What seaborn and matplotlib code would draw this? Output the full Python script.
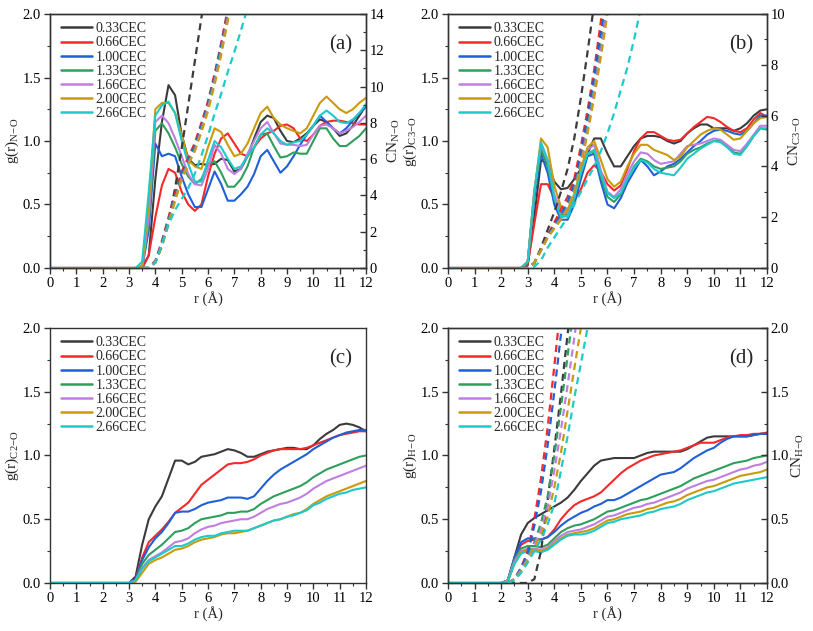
import numpy as np
import pandas as pd
import seaborn as sns
import matplotlib.pyplot as plt
from matplotlib.lines import Line2D
from matplotlib.ticker import MultipleLocator

nan = float('nan')

labels = ['0.33CEC', '0.66CEC', '1.00CEC', '1.33CEC', '1.66CEC', '2.00CEC', '2.66CEC']
colors = ['#3b3b3b', '#f5282a', '#1f5fd8', '#2f9e5c', '#bf7ee0', '#c99a0a', '#1ccaca']

# ---- (a) N-O ----
r_a = [0, 3.25, 3.5, 3.75, 4.0, 4.25, 4.5, 4.75, 5.0, 5.25, 5.5, 5.75, 6.0, 6.25, 6.5, 6.75,
       7.0, 7.25, 7.5, 7.75, 8.0, 8.25, 8.5, 8.75, 9.0, 9.25, 9.5, 9.75, 10.0, 10.25, 10.5,
       10.75, 11.0, 11.25, 11.5, 11.75, 12.0]
g_a = [
    [0, 0, 0, 0.1, 0.7, 1.15, 1.44, 1.36, 1.05, 0.86, 0.81, 0.82, 0.81, 0.82, 0.86, 0.85, 0.76, 0.78,
     0.88, 1.02, 1.15, 1.2, 1.18, 1.08, 1.0, 0.99, 1.02, 1.06, 1.12, 1.17, 1.15, 1.1, 1.04, 1.06, 1.12, 1.2, 1.28],
    [0, 0, 0, 0.1, 0.4, 0.65, 0.78, 0.75, 0.6, 0.5, 0.45, 0.5, 0.72, 0.9, 1.02, 1.06, 0.98, 0.9,
     0.88, 0.95, 1.02, 1.06, 1.08, 1.12, 1.13, 1.1, 1.02, 1.0, 1.05, 1.12, 1.15, 1.16, 1.16, 1.15, 1.14, 1.13, 1.13],
    [0, 0, 0, 0.3, 0.98, 0.88, 0.9, 0.88, 0.72, 0.58, 0.48, 0.48, 0.62, 0.76, 0.66, 0.53, 0.53, 0.58,
     0.64, 0.74, 0.88, 0.93, 0.84, 0.75, 0.8, 0.88, 0.97, 1.05, 1.12, 1.2, 1.15, 1.1, 1.06, 1.1, 1.16, 1.22, 1.27],
    [0, 0, 0, 0.35, 1.08, 1.14, 1.06, 0.95, 0.82, 0.72, 0.66, 0.7, 0.82, 0.84, 0.75, 0.64, 0.64, 0.7,
     0.8, 0.95, 1.05, 1.06, 0.96, 0.87, 0.88, 0.91, 0.9, 0.9, 1.0, 1.1, 1.1, 1.02, 0.96, 0.96, 1.0, 1.04, 1.1],
    [0, 0, 0, 0.4, 1.15, 1.2, 1.14, 1.02, 0.88, 0.74, 0.66, 0.65, 0.78, 0.97, 0.9, 0.78, 0.74, 0.78,
     0.9, 1.0, 1.1, 1.15, 1.06, 0.98, 0.97, 0.97, 0.96, 0.97, 1.05, 1.12, 1.13, 1.1, 1.06, 1.08, 1.11, 1.15, 1.2],
    [0, 0, 0.02, 0.5, 1.25, 1.3, 1.3, 1.22, 1.05, 0.85, 0.8, 0.78, 0.95, 1.1, 1.07, 0.97, 0.88, 0.9,
     0.98, 1.1, 1.22, 1.27, 1.18, 1.13, 1.1, 1.08, 1.06, 1.1, 1.2, 1.3, 1.35, 1.3, 1.25, 1.22, 1.25, 1.3, 1.34],
    [0, 0, 0.05, 0.6, 1.2, 1.28, 1.31, 1.22, 1.0, 0.82, 0.68, 0.68, 0.85, 1.0, 0.95, 0.86, 0.78, 0.8,
     0.88, 0.95, 1.05, 1.1, 1.06, 1.0, 0.97, 0.99, 1.0, 1.05, 1.12, 1.2, 1.24, 1.2, 1.15, 1.14, 1.17, 1.22, 1.29],
]
r_cn_a = [3.5, 3.75, 4.0, 4.25, 4.5, 4.75, 5.0, 5.25, 5.5, 5.75, 6.0, 6.25, 6.5, 6.75, 7.0, 7.25, 7.5, 7.75]
cn_a = [
    [0, 0, 0.3, 1.2, 2.6, 4.4, 6.6, 9.0, 11.4, 13.8, 16.0, nan, nan, nan, nan, nan, nan, nan],
    [0, 0, 0.4, 1.5, 2.8, 4.1, 5.3, 6.1, 6.9, 8.0, 9.2, 10.7, 12.4, 14.3, 16.2, nan, nan, nan],
    [0, 0, 0.35, 1.4, 2.65, 3.95, 5.15, 5.95, 6.75, 7.85, 9.05, 10.55, 12.25, 14.1, 16.0, nan, nan, nan],
    [0, 0, 0.3, 1.3, 2.55, 3.85, 5.05, 5.85, 6.6, 7.7, 8.9, 10.4, 12.05, 13.9, 15.8, nan, nan, nan],
    [0, 0, 0.3, 1.25, 2.45, 3.75, 4.95, 5.75, 6.5, 7.6, 8.8, 10.25, 11.9, 13.75, 15.6, nan, nan, nan],
    [0, 0, 0.3, 1.2, 2.4, 3.7, 4.9, 5.7, 6.45, 7.5, 8.65, 10.1, 11.75, 13.6, 15.4, nan, nan, nan],
    [0, 0, 0.3, 1.3, 2.4, 3.2, 3.8, 4.4, 5.2, 6.2, 7.3, 8.5, 9.6, 10.8, 11.9, 13.1, 14.3, 15.5],
]

# ---- (b) C3-O ----
r_b = [0, 2.75, 3.0, 3.25, 3.5, 3.75, 4.0, 4.25, 4.5, 4.75, 5.0, 5.25, 5.5, 5.75, 6.0, 6.25, 6.5,
       6.75, 7.0, 7.25, 7.5, 7.75, 8.0, 8.25, 8.5, 8.75, 9.0, 9.25, 9.5, 9.75, 10.0, 10.25, 10.5,
       10.75, 11.0, 11.25, 11.5, 11.75, 12.0]
g_b = [
    [0, 0, 0.02, 0.4, 0.85, 0.82, 0.68, 0.62, 0.63, 0.7, 0.78, 0.9, 1.02, 1.02, 0.9, 0.8, 0.8, 0.88, 0.96,
     1.02, 1.04, 1.04, 1.03, 1.0, 0.98, 1.0, 1.06, 1.1, 1.13, 1.13, 1.1, 1.1, 1.1, 1.08, 1.1, 1.14, 1.2, 1.24, 1.25],
    [0, 0, 0.03, 0.35, 0.66, 0.66, 0.55, 0.47, 0.46, 0.53, 0.62, 0.75, 0.81, 0.76, 0.66, 0.61, 0.65, 0.78, 0.92,
     1.02, 1.07, 1.07, 1.04, 1.01, 1.0, 1.01, 1.06, 1.11, 1.15, 1.19, 1.18, 1.15, 1.11, 1.08, 1.07, 1.1, 1.17, 1.22, 1.19],
    [0, 0, 0.05, 0.55, 0.9, 0.75, 0.5, 0.38, 0.38, 0.5, 0.7, 0.88, 0.9, 0.68, 0.5, 0.47, 0.55, 0.67, 0.76,
     0.85, 0.8, 0.73, 0.76, 0.8, 0.82, 0.86, 0.91, 0.96, 1.0, 1.05, 1.08, 1.09, 1.08, 1.06, 1.05, 1.08, 1.14, 1.2, 1.2],
    [0, 0, 0.05, 0.6, 0.94, 0.8, 0.55, 0.42, 0.42, 0.55, 0.75, 0.9, 0.92, 0.72, 0.56, 0.52, 0.58, 0.7, 0.8,
     0.86, 0.84, 0.8, 0.78, 0.79, 0.8, 0.84, 0.9, 0.93, 0.95, 0.98, 1.0, 1.0, 0.96, 0.91, 0.9, 0.96, 1.04, 1.1, 1.09],
    [0, 0, 0.05, 0.62, 0.97, 0.85, 0.58, 0.44, 0.43, 0.56, 0.78, 0.93, 0.97, 0.77, 0.6, 0.56, 0.62, 0.74, 0.84,
     0.91, 0.9, 0.85, 0.82, 0.83, 0.84, 0.9, 0.96, 0.97, 0.98, 1.0, 1.02, 1.01, 0.97, 0.93, 0.92, 0.98, 1.05, 1.12, 1.12],
    [0, 0, 0.05, 0.6, 1.02, 0.95, 0.65, 0.48, 0.46, 0.58, 0.78, 0.95, 1.0, 0.85, 0.7, 0.64, 0.68, 0.8, 0.9,
     0.97, 0.97, 0.93, 0.91, 0.89, 0.85, 0.88, 0.95, 1.0, 1.05, 1.08, 1.1, 1.09, 1.05, 1.01, 1.02, 1.08, 1.14, 1.18, 1.19],
    [0, 0, 0.05, 0.6, 0.99, 0.85, 0.55, 0.4, 0.41, 0.55, 0.75, 0.9, 0.93, 0.74, 0.59, 0.55, 0.59, 0.7, 0.79,
     0.85, 0.83, 0.78, 0.75, 0.74, 0.73, 0.79, 0.86, 0.9, 0.94, 0.97, 1.0, 0.99, 0.95, 0.9, 0.89, 0.96, 1.04, 1.1, 1.1],
]
r_cn_b = [2.75, 3.0, 3.25, 3.5, 3.75, 4.0, 4.25, 4.5, 4.75, 5.0, 5.25, 5.5, 5.75, 6.0, 6.25, 6.5,
          6.75, 7.0, 7.25, 7.5]
cn_b = [
    [0, 0, 0.2, 0.8, 1.5, 2.2, 3.0, 3.9, 5.1, 6.7, 8.5, 10.4, nan, nan, nan, nan, nan, nan, nan, nan],
    [0, 0, 0.2, 0.7, 1.3, 1.8, 2.3, 2.8, 3.5, 4.8, 6.2, 7.8, 9.7, 11.5, nan, nan, nan, nan, nan, nan],
    [0, 0, 0.2, 0.7, 1.25, 1.7, 2.1, 2.6, 3.3, 4.5, 5.9, 7.5, 9.2, 11.0, nan, nan, nan, nan, nan, nan],
    [0, 0, 0.2, 0.7, 1.2, 1.6, 2.0, 2.4, 3.1, 4.2, 5.5, 7.0, 8.7, 10.4, nan, nan, nan, nan, nan, nan],
    [0, 0, 0.2, 0.7, 1.2, 1.6, 1.95, 2.35, 3.0, 4.1, 5.4, 6.9, 8.5, 10.2, nan, nan, nan, nan, nan, nan],
    [0, 0, 0.2, 0.7, 1.2, 1.55, 1.9, 2.3, 2.95, 4.0, 5.3, 6.7, 8.3, 10.0, 11.8, nan, nan, nan, nan, nan],
    [0, 0, 0.05, 0.3, 0.8, 1.2, 1.6, 2.0, 2.5, 3.0, 3.5, 4.0, 4.6, 5.3, 6.1, 7.0, 7.9, 9.0, 10.2, 11.4],
]

# ---- (c) C2-O ----
r_c = [0, 3.0, 3.25, 3.5, 3.75, 4.0, 4.25, 4.5, 4.75, 5.0, 5.25, 5.5, 5.75, 6.0, 6.25, 6.5, 6.75,
       7.0, 7.25, 7.5, 7.75, 8.0, 8.25, 8.5, 8.75, 9.0, 9.25, 9.5, 9.75, 10.0, 10.25, 10.5, 10.75,
       11.0, 11.25, 11.5, 11.75, 12.0]
g_c = [
    [0, 0, 0.05, 0.3, 0.5, 0.6, 0.68, 0.82, 0.96, 0.96, 0.93, 0.95, 0.99, 1.0, 1.01, 1.03, 1.05, 1.04, 1.02,
     0.99, 0.99, 1.01, 1.03, 1.04, 1.05, 1.06, 1.06, 1.05, 1.05, 1.08, 1.13, 1.17, 1.2, 1.24, 1.25, 1.24, 1.22, 1.19],
    [0, 0, 0.03, 0.2, 0.32, 0.37, 0.42, 0.48, 0.55, 0.59, 0.63, 0.7, 0.77, 0.81, 0.85, 0.89, 0.93, 0.94, 0.94,
     0.95, 0.97, 1.0, 1.02, 1.04, 1.05, 1.05, 1.05, 1.05, 1.06, 1.08, 1.1, 1.12, 1.14, 1.16, 1.17, 1.18, 1.19, 1.19],
    [0, 0, 0.03, 0.18, 0.28, 0.35, 0.4, 0.47, 0.55, 0.56, 0.56, 0.58, 0.61, 0.63, 0.64, 0.65, 0.67, 0.67, 0.67,
     0.66, 0.68, 0.74, 0.8, 0.85, 0.89, 0.92, 0.95, 0.98, 1.01, 1.05, 1.08, 1.11, 1.14, 1.16, 1.18, 1.19, 1.2, 1.2],
    [0, 0, 0.02, 0.15, 0.22, 0.26, 0.3, 0.35, 0.4, 0.41, 0.43, 0.47, 0.5, 0.51, 0.52, 0.53, 0.55, 0.55, 0.56,
     0.56, 0.58, 0.62, 0.65, 0.68, 0.7, 0.72, 0.74, 0.76, 0.79, 0.83, 0.86, 0.89, 0.91, 0.93, 0.95, 0.97, 0.99, 1.0],
    [0, 0, 0.02, 0.12, 0.18, 0.21, 0.24, 0.28, 0.32, 0.33, 0.35, 0.39, 0.42, 0.44, 0.45, 0.47, 0.48, 0.49, 0.5,
     0.5, 0.52, 0.55, 0.58, 0.6, 0.62, 0.63, 0.65, 0.67, 0.7, 0.74, 0.77, 0.8, 0.82, 0.84, 0.86, 0.88, 0.9, 0.92],
    [0, 0, 0.01, 0.08, 0.15, 0.18, 0.2, 0.23, 0.26, 0.27, 0.29, 0.32, 0.34, 0.35, 0.36, 0.38, 0.39, 0.39, 0.4,
     0.41, 0.43, 0.45, 0.47, 0.49, 0.5, 0.52, 0.54, 0.55, 0.58, 0.62, 0.65, 0.68, 0.7, 0.72, 0.74, 0.76, 0.78, 0.8],
    [0, 0, 0.02, 0.11, 0.17, 0.2, 0.23, 0.26, 0.29, 0.29, 0.31, 0.34, 0.36, 0.37, 0.37, 0.39, 0.4, 0.41, 0.41,
     0.41, 0.43, 0.45, 0.47, 0.49, 0.5, 0.52, 0.53, 0.55, 0.57, 0.61, 0.63, 0.66, 0.68, 0.7, 0.71, 0.73, 0.74, 0.75],
]

# ---- (d) H-O ----
r_d = [0, 2.0, 2.25, 2.5, 2.75, 3.0, 3.25, 3.5, 3.75, 4.0, 4.25, 4.5, 4.75, 5.0, 5.25, 5.5, 5.75,
       6.0, 6.25, 6.5, 6.75, 7.0, 7.25, 7.5, 7.75, 8.0, 8.25, 8.5, 8.75, 9.0, 9.25, 9.5, 9.75,
       10.0, 10.25, 10.5, 10.75, 11.0, 11.25, 11.5, 11.75, 12.0]
g_d = [
    [0, 0, 0.02, 0.2, 0.38, 0.47, 0.51, 0.54, 0.57, 0.6, 0.63, 0.67, 0.73, 0.8, 0.86, 0.92, 0.96, 0.97, 0.98, 0.98, 0.98,
     0.98, 1.0, 1.02, 1.03, 1.03, 1.03, 1.03, 1.03, 1.05, 1.08, 1.11, 1.14, 1.15, 1.15, 1.15, 1.15, 1.15, 1.15, 1.16, 1.17, 1.17],
    [0, 0, 0.02, 0.18, 0.3, 0.33, 0.34, 0.34, 0.36, 0.42, 0.5, 0.56, 0.61, 0.64, 0.66, 0.68, 0.71, 0.76, 0.81, 0.86, 0.9,
     0.93, 0.96, 0.98, 1.0, 1.01, 1.02, 1.03, 1.04, 1.06, 1.08, 1.1, 1.1, 1.1, 1.12, 1.14, 1.15, 1.16, 1.16, 1.17, 1.17, 1.18],
    [0, 0, 0.02, 0.2, 0.32, 0.35, 0.35, 0.34, 0.36, 0.4, 0.45, 0.49, 0.52, 0.55, 0.57, 0.6, 0.62, 0.65, 0.65, 0.67, 0.7,
     0.73, 0.76, 0.79, 0.82, 0.85, 0.86, 0.87, 0.9, 0.94, 0.98, 1.01, 1.04, 1.06, 1.1, 1.13, 1.15, 1.15, 1.15, 1.16, 1.17, 1.17],
    [0, 0, 0.02, 0.18, 0.27, 0.29, 0.29, 0.28, 0.3, 0.35, 0.4, 0.43, 0.45, 0.46, 0.48, 0.5, 0.53, 0.56, 0.57, 0.59, 0.61,
     0.63, 0.65, 0.66, 0.68, 0.7, 0.72, 0.74, 0.76, 0.79, 0.82, 0.84, 0.86, 0.88, 0.9, 0.92, 0.94, 0.95, 0.96, 0.98, 0.99, 1.0],
    [0, 0, 0.02, 0.17, 0.25, 0.27, 0.27, 0.26, 0.28, 0.33, 0.37, 0.4, 0.41, 0.42, 0.44, 0.46, 0.49, 0.52, 0.53, 0.55, 0.57,
     0.59, 0.6, 0.62, 0.63, 0.65, 0.67, 0.69, 0.71, 0.74, 0.76, 0.78, 0.8, 0.81, 0.83, 0.85, 0.87, 0.89, 0.9, 0.92, 0.93, 0.95],
    [0, 0, 0.01, 0.15, 0.24, 0.26, 0.26, 0.25, 0.27, 0.31, 0.35, 0.38, 0.39, 0.4, 0.41, 0.43, 0.46, 0.49, 0.5, 0.52, 0.54,
     0.55, 0.56, 0.58, 0.59, 0.61, 0.63, 0.64, 0.66, 0.69, 0.71, 0.73, 0.75, 0.76, 0.78, 0.8, 0.82, 0.84, 0.85, 0.86, 0.87, 0.89],
    [0, 0, 0.01, 0.15, 0.23, 0.25, 0.25, 0.24, 0.26, 0.3, 0.34, 0.37, 0.38, 0.38, 0.39, 0.41, 0.44, 0.47, 0.48, 0.5, 0.51,
     0.52, 0.53, 0.55, 0.56, 0.58, 0.59, 0.6, 0.62, 0.65, 0.67, 0.69, 0.71, 0.72, 0.74, 0.76, 0.78, 0.79, 0.8, 0.81, 0.82, 0.83],
]
r_cn_d = [2.25, 2.5, 2.75, 3.0, 3.25, 3.5, 3.75, 4.0, 4.25, 4.5, 4.75, 5.0, 5.25, 5.5]
cn_d = [
    [0, 0, 0, 0, 0.03, 0.25, 0.65, 1.05, 1.48, 1.95, 2.4, nan, nan, nan],
    [0, 0.03, 0.12, 0.25, 0.5, 0.82, 1.22, 1.7, 2.2, nan, nan, nan, nan, nan],
    [0, 0.03, 0.12, 0.23, 0.45, 0.72, 1.08, 1.5, 1.95, 2.4, nan, nan, nan, nan],
    [0, 0.03, 0.1, 0.2, 0.32, 0.47, 0.68, 1.0, 1.38, 1.78, 2.2, nan, nan, nan],
    [0, 0.03, 0.1, 0.19, 0.3, 0.42, 0.6, 0.88, 1.2, 1.55, 1.92, 2.3, nan, nan],
    [0, 0.03, 0.09, 0.18, 0.28, 0.38, 0.52, 0.75, 1.02, 1.35, 1.68, 2.0, 2.35, nan],
    [0, 0.02, 0.08, 0.16, 0.25, 0.34, 0.46, 0.62, 0.88, 1.15, 1.45, 1.72, 2.0, 2.3],
]

sns.set_style('ticks')
plt.rcParams['font.family'] = ['Liberation Serif', 'DejaVu Serif']
plt.rcParams['mathtext.fontset'] = 'custom'
plt.rcParams['mathtext.rm'] = 'Liberation Serif'
plt.rcParams['mathtext.it'] = 'Liberation Serif:italic'
plt.rcParams['axes.edgecolor'] = '#333333'
plt.rcParams['axes.linewidth'] = 1.0


def long_form(r, rows):
    df = pd.DataFrame(dict(zip(labels, rows)))
    df['r'] = r
    df = df.melt(id_vars='r', var_name='conc', value_name='y')
    return df.dropna()


def panel(rect, r, g, letter, ylab, r_cn=None, cn=None, cn_max=None, cn_major=None, cn_lab=None):
    ax = fig.add_axes(rect)
    sns.lineplot(data=long_form(r, g), x='r', y='y', hue='conc', hue_order=labels,
                 palette=colors, lw=1.5, ax=ax, sort=False, estimator=None, legend=False)
    ax.set_xlim(0, 12)
    ax.set_ylim(0, 2.0)
    ax.xaxis.set_major_locator(MultipleLocator(1))
    ax.xaxis.set_minor_locator(MultipleLocator(0.5))
    ax.yaxis.set_major_locator(MultipleLocator(0.5))
    ax.yaxis.set_minor_locator(MultipleLocator(0.25))
    ax.yaxis.set_major_formatter(plt.FormatStrFormatter('%.1f'))
    ax.tick_params(which='major', direction='out', length=4, width=1, labelsize=10.5, colors='#333333',
                   labelcolor='black', right=False, top=False, pad=2.5)
    ax.tick_params(which='minor', direction='out', length=2, width=0.8, colors='#333333',
                   right=False, top=False)
    ax.set_xlabel('r (Å)', fontsize=10.5, labelpad=1)
    ax.set_ylabel(ylab, fontsize=11, labelpad=1)
    for s in ax.spines.values():
        s.set_visible(True)
    handles = [Line2D([], [], color=c, lw=1.8) for c in colors]
    ax.legend(handles, labels, loc='upper left', frameon=False, fontsize=10,
              handlelength=2.2, handletextpad=0.25, labelspacing=0.08,
              borderaxespad=0.2, bbox_to_anchor=(0.01, 1.0))
    ax.text(0.92, 0.88, letter, transform=ax.transAxes, fontsize=15,
            ha='center', va='center')
    if cn is not None:
        ax2 = ax.twinx()
        sns.lineplot(data=long_form(r_cn, cn), x='r', y='y', hue='conc', hue_order=labels,
                     palette=colors, lw=1.6, ax=ax2, sort=False, estimator=None, legend=False)
        for ln in ax2.lines:
            ln.set_dashes([3.2, 2.2])
        ax2.set_ylim(0, cn_max)
        ax2.set_xlim(0, 12)
        ax2.yaxis.set_major_locator(MultipleLocator(cn_major))
        ax2.yaxis.set_minor_locator(MultipleLocator(cn_major / 2))
        if cn_major < 1:
            ax2.yaxis.set_major_formatter(plt.FormatStrFormatter('%.1f'))
        ax2.tick_params(which='major', direction='in', length=4, width=1, labelsize=10.5,
                        colors='#333333', labelcolor='black', pad=2.5)
        ax2.tick_params(which='minor', direction='in', length=2, width=0.8, colors='#333333')
        ax2.set_ylabel(cn_lab, fontsize=11, labelpad=1)
        ax2.set_xlabel('')
    return ax


fig = plt.figure(figsize=(8.13, 6.31), dpi=100)

panel([0.0615, 0.5753, 0.3887, 0.4025], r_a, g_a, '(a)', r'g(r)$_{\mathrm{N\!-\!O}}$',
      r_cn_a, cn_a, 14, 2, r'CN$_{\mathrm{N\!-\!O}}$')
panel([0.551, 0.5753, 0.3924, 0.4025], r_b, g_b, '(b)', r'g(r)$_{\mathrm{C3\!-\!O}}$',
      r_cn_b, cn_b, 10, 2, r'CN$_{\mathrm{C3\!-\!O}}$')
panel([0.0615, 0.0761, 0.3887, 0.4041], r_c, g_c, '(c)', r'g(r)$_{\mathrm{C2\!-\!O}}$')
panel([0.551, 0.0761, 0.3924, 0.4041], r_d, g_d, '(d)', r'g(r)$_{\mathrm{H\!-\!O}}$',
      r_cn_d, cn_d, 2.0, 0.5, r'CN$_{\mathrm{H\!-\!O}}$')

fig.savefig('out.png', dpi=100)
